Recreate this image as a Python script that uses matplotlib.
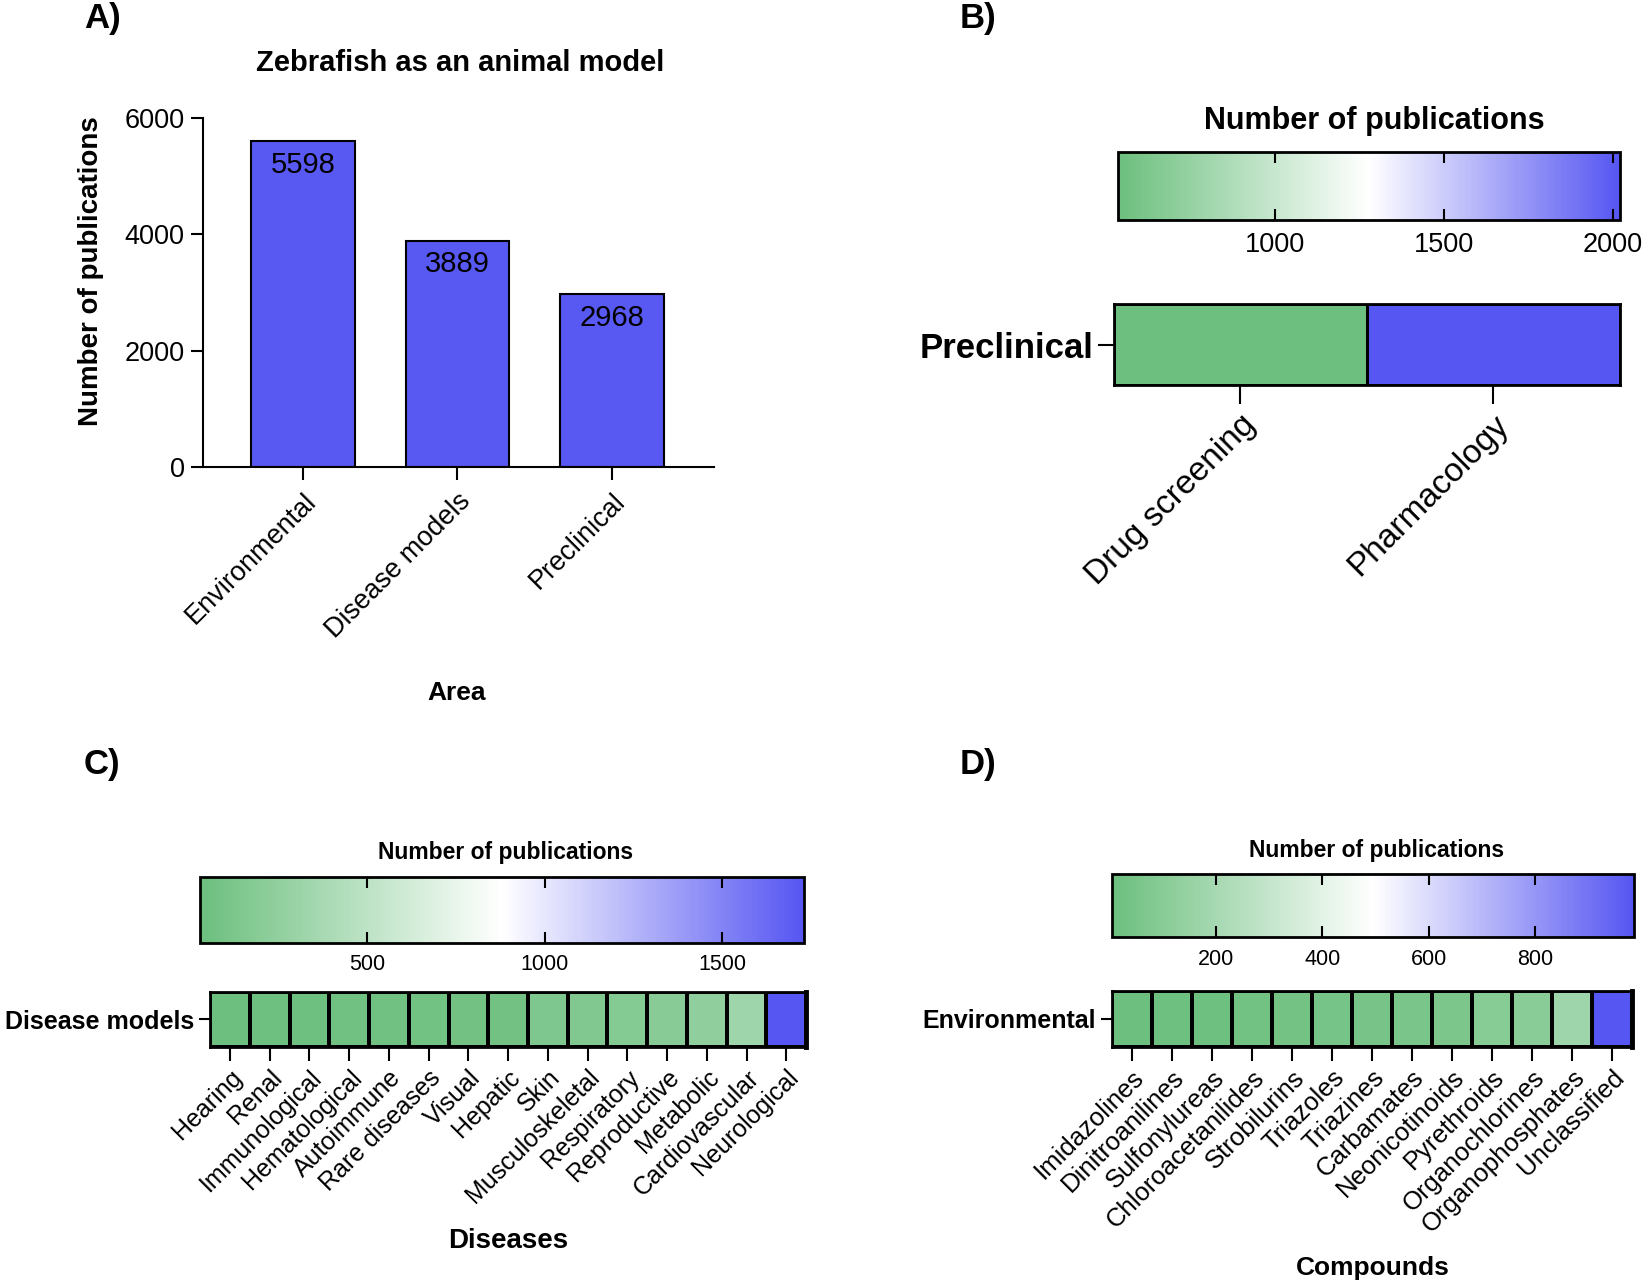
import numpy as np
import matplotlib
matplotlib.use("Agg")
import matplotlib.pyplot as plt
from matplotlib.colors import LinearSegmentedColormap, Normalize

plt.rcParams['font.family'] = ['Liberation Sans', 'DejaVu Sans']

# ---------------- data ----------------
areas = ["Environmental", "Disease models", "Preclinical"]
area_counts = [5598, 3889, 2968]

preclinical_cats = ["Drug screening", "Pharmacology"]
preclinical_vals = [535, 2020]

disease_cats = ["Hearing", "Renal", "Immunological", "Hematological", "Autoimmune",
                "Rare diseases", "Visual", "Hepatic", "Skin", "Musculoskeletal",
                "Respiratory", "Reproductive", "Metabolic", "Cardiovascular", "Neurological"]
disease_vals = [30, 38, 45, 60, 62, 68, 72, 75, 140, 148, 175, 190, 240, 320, 1731]

compound_cats = ["Imidazolines", "Dinitroanilines", "Sulfonylureas", "Chloroacetanilides",
                 "Strobilurins", "Triazoles", "Triazines", "Carbamates", "Neonicotinoids",
                 "Pyrethroids", "Organochlorines", "Organophosphates", "Unclassified"]
compound_vals = [3, 8, 12, 25, 30, 38, 42, 50, 58, 95, 100, 170, 988]

cb_ticks_B = [1000, 1500, 2000]
cb_ticks_C = [500, 1000, 1500]
cb_ticks_D = [200, 400, 600, 800]

BLUE = "#5858f2"
cmap = LinearSegmentedColormap.from_list("gwb", ["#6cbf7e", "#ffffff", "#5656f2"])

fig = plt.figure(figsize=(16.46, 12.86), dpi=100)

# ---------------- Panel A ----------------
axA = fig.add_axes([0.1231, 0.6367, 0.3106, 0.2719])
x = np.arange(len(areas))
axA.bar(x, area_counts, width=0.67, color=BLUE, edgecolor="black", linewidth=1.5)
for xi, v in zip(x, area_counts):
    axA.annotate(str(v), (xi, v), xytext=(0, -7), textcoords="offset points",
                 ha="center", va="top", fontsize=21)
axA.set_ylim(0, 6000)
axA.set_xlim(-0.65, 2.66)
axA.set_yticks([0, 2000, 4000, 6000])
axA.set_xticks(x)
axA.set_xticklabels(areas, rotation=45, ha="right", rotation_mode="anchor", fontsize=19.5)
axA.tick_params(axis="both", direction="out", length=9, width=1.5, labelsize=19.5)
axA.tick_params(axis="x", pad=6)
axA.tick_params(axis="y", pad=4)
for s in ["top", "right"]:
    axA.spines[s].set_visible(False)
for s in ["left", "bottom"]:
    axA.spines[s].set_linewidth(1.5)
fig.text(0.0555, 0.7894, "Number of publications", rotation=90, ha="center", va="center",
         fontsize=20, fontweight="bold")
fig.text(0.2793, 0.951, "Zebrafish as an animal model", ha="center", va="center",
         fontsize=21, fontweight="bold")
fig.text(0.2774, 0.4612, "Area", ha="center", va="center", fontsize=19, fontweight="bold")


def heat_panel(cb_rect, hm_rect, cats, vals, row_label, cb_ticks, cb_title, title_xy,
               cb_fs, title_fs, row_fs, xt_fs, edge_lw, xt_len, right_lw):
    vals = np.asarray(vals, dtype=float)
    norm = Normalize(vmin=vals.min(), vmax=vals.max())
    hax = fig.add_axes(hm_rect)
    mesh = hax.pcolormesh(np.arange(len(cats) + 1), [0, 1], vals[None, :], cmap=cmap,
                          norm=norm, edgecolors="black", linewidth=edge_lw)
    hax.set_xlim(0, len(cats))
    hax.set_ylim(0, 1)
    hax.set_xticks(np.arange(len(cats)) + 0.5)
    hax.set_xticklabels(cats, rotation=45, ha="right", rotation_mode="anchor", fontsize=xt_fs)
    hax.set_yticks([0.5])
    hax.set_yticklabels([row_label], fontsize=row_fs, fontweight="bold")
    hax.tick_params(axis="both", direction="out", length=xt_len, width=1.5)
    hax.tick_params(axis="y", length=xt_len * 0.8)
    for s in hax.spines.values():
        s.set_linewidth(2)
    hax.spines["right"].set_linewidth(right_lw)
    cax = fig.add_axes(cb_rect)
    cb = fig.colorbar(mesh, cax=cax, orientation="horizontal")
    cb.set_ticks(cb_ticks)
    cax.tick_params(axis="x", direction="in", length=8, width=1.5, top=True, bottom=True,
                    labelsize=cb_fs, pad=8)
    cb.outline.set_linewidth(2)
    fig.text(title_xy[0], title_xy[1], cb_title, ha="center", va="center",
             fontsize=title_fs, fontweight="bold")
    return hax


# ---------------- Panel B ----------------
heat_panel([0.6792, 0.8286, 0.3049, 0.0531], [0.6767, 0.7004, 0.3074, 0.0629],
           preclinical_cats, preclinical_vals, "Preclinical", cb_ticks_B,
           "Number of publications", (0.8348, 0.9061),
           cb_fs=19.5, title_fs=22, row_fs=25, xt_fs=24, edge_lw=2, xt_len=14, right_lw=2)

# ---------------- Panel C ----------------
heat_panel([0.1218, 0.2669, 0.3667, 0.0515], [0.1276, 0.1861, 0.3622, 0.0425],
           disease_cats, disease_vals, "Disease models", cb_ticks_C,
           "Number of publications", (0.3074, 0.3371),
           cb_fs=15.5, title_fs=16.5, row_fs=18, xt_fs=18, edge_lw=1.5, xt_len=10, right_lw=3.5)
fig.text(0.3087, 0.0351, "Diseases", ha="center", va="center", fontsize=20, fontweight="bold")

# ---------------- Panel D ----------------
heat_panel([0.6754, 0.2710, 0.3176, 0.0490], [0.6754, 0.1861, 0.3163, 0.0433],
           compound_cats, compound_vals, "Environmental", cb_ticks_D,
           "Number of publications", (0.8361, 0.3388),
           cb_fs=15.5, title_fs=16.5, row_fs=18, xt_fs=18.5, edge_lw=1.5, xt_len=10, right_lw=3.5)
fig.text(0.8342, 0.0139, "Compounds", ha="center", va="center", fontsize=19, fontweight="bold")

# ---------------- panel letters ----------------
for lab, (px, py) in {"A)": (0.051, 0.9853), "B)": (0.583, 0.9853),
                      "C)": (0.051, 0.4057), "D)": (0.583, 0.4057)}.items():
    fig.text(px, py, lab, ha="left", va="center", fontsize=25, fontweight="bold")

fig.savefig("out.png", dpi=100)
